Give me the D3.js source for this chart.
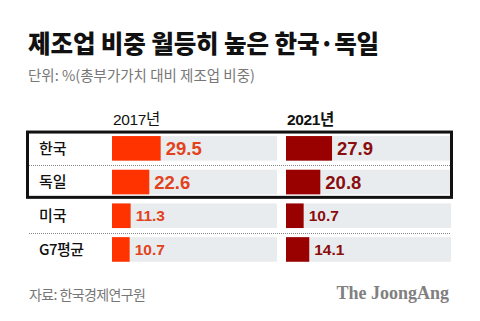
<!DOCTYPE html>
<html>
<head>
<meta charset="utf-8">
<script src="https://cdn.jsdelivr.net/npm/d3@7"></script>
<style>
  body { margin: 0; background: #fff; }
  svg { display: block; }
  .kr { font-family: "Noto Sans CJK KR", "Noto Sans", sans-serif; }
  .mix { font-family: "Liberation Sans", "Noto Sans CJK KR", sans-serif; }
  .num { font-family: "Liberation Sans", Arial, sans-serif; font-weight: 700; }
</style>
</head>
<body>
<div id="chart"></div>
<script>
// Data
const countries = ['한국', '독일', '미국', 'G7 평균'];
const share2017 = [29.5, 22.6, 11.3, 10.7];
const share2021 = [27.9, 20.8, 10.7, 14.1];
const years = ['2017년', '2021년'];
const highlighted = ['한국', '독일'];

const width = 480;
const height = 321;

const svg = d3.select('#chart')
  .append('svg')
    .attr('width', width)
    .attr('height', height);

// Title and unit line
svg.append('text')
    .attr('class', 'kr')
    .attr('x', 28)
    .attr('y', 53)
    .attr('font-size', 24.5)
    .attr('font-weight', 900)
    .attr('letter-spacing', -0.1)
    .attr('fill', '#111')
    .text('제조업 비중 월등히 높은 한국·독일');

svg.append('text')
    .attr('class', 'kr')
    .attr('x', 28)
    .attr('y', 81)
    .attr('font-size', 14.5)
    .attr('fill', '#777')
    .text('단위: %(총부가가치 대비 제조업 비중)');

// Scales
const y = d3.scaleBand()
  .domain(countries)
  .range([131.5, 266.3])
  .paddingInner(0.27)
  .paddingOuter(0.135);

const columns = [
  { year: years[0], values: share2017, x: d3.scaleLinear().domain([0, 100]).range([112, 277]),
    bar: '#ff3300', label: '#e2421c', weight: 400 },
  { year: years[1], values: share2021, x: d3.scaleLinear().domain([0, 100]).range([286, 451]),
    bar: '#990000', label: '#8a0d0d', weight: 700 },
];

// Column headers
svg.selectAll('.year-label')
  .data(columns)
  .join('text')
    .attr('class', 'year-label mix')
    .attr('x', d => d.x(0) + 1)
    .attr('y', 125)
    .attr('font-size', 15.5)
    .attr('font-weight', d => d.weight)
    .attr('letter-spacing', -0.4)
    .attr('fill', '#111')
    .text(d => d.year);

// Grey track behind each bar
columns.forEach(col => {
  svg.append('g')
    .selectAll('rect')
    .data(countries)
    .join('rect')
      .attr('x', col.x(0))
      .attr('y', d => y(d))
      .attr('width', col.x(100) - col.x(0))
      .attr('height', y.bandwidth())
      .attr('fill', '#e9ecee');
});

// Dotted separators
const sepPairs = [[0, 1], [2, 3]];
const sepY = d => Math.round((y(countries[d[0]]) + y.bandwidth() + y(countries[d[1]])) / 2) + 0.5;
svg.append('g')
  .selectAll('line')
  .data(sepPairs)
  .join('line')
    .attr('x1', 29)
    .attr('x2', 451)
    .attr('y1', sepY)
    .attr('y2', sepY)
    .attr('stroke', '#888')
    .attr('stroke-width', 1)
    .attr('stroke-dasharray', '1,1');

// Bars and value labels
columns.forEach(col => {
  const g = svg.append('g');
  g.selectAll('rect')
    .data(countries)
    .join('rect')
      .attr('x', col.x(0))
      .attr('y', d => y(d))
      .attr('width', (d, i) => col.x(col.values[i]) - col.x(0))
      .attr('height', y.bandwidth())
      .attr('fill', col.bar);

  g.selectAll('text')
    .data(countries)
    .join('text')
      .attr('class', 'num')
      .attr('x', (d, i) => col.x(col.values[i]) + 5)
      .attr('y', d => y(d) + y.bandwidth() / 2)
      .attr('dy', '0.36em')
      .attr('font-size', d => highlighted.includes(d) ? 18.5 : 15.5)
      .attr('fill', col.label)
      .text((d, i) => d3.format('.1f')(col.values[i]));
});

// Country names
svg.append('g')
  .selectAll('text')
  .data(countries)
  .join('text')
    .attr('class', 'kr')
    .attr('x', 39)
    .attr('y', d => y(d) + y.bandwidth() / 2)
    .attr('dy', '0.36em')
    .attr('font-size', 15)
    .attr('font-weight', 500)
    .attr('letter-spacing', d => d === 'G7 평균' ? -0.5 : 0)
    .attr('fill', '#111')
    .text(d => d === 'G7 평균' ? 'G7평균' : d);

// Frame around the two highlighted rows
const frameTop = y(highlighted[0]) - 4;
const frameBottom = y(highlighted[1]) + y.bandwidth() + 3;
svg.append('rect')
    .attr('x', 27.5)
    .attr('y', frameTop)
    .attr('width', 424)
    .attr('height', frameBottom - frameTop)
    .attr('fill', 'none')
    .attr('stroke', '#111')
    .attr('stroke-width', 3);

// Footer
svg.append('text')
    .attr('class', 'kr')
    .attr('x', 29)
    .attr('y', 300)
    .attr('font-size', 14)
    .attr('letter-spacing', -0.6)
    .attr('fill', '#777')
    .text('자료: 한국경제연구원');

svg.append('text')
    .attr('x', 449)
    .attr('y', 299)
    .attr('text-anchor', 'end')
    .attr('font-family', '"Liberation Serif", "DejaVu Serif", serif')
    .attr('font-weight', 700)
    .attr('font-size', 18)
    .attr('fill', '#808080')
    .text('The JoongAng');
</script>
</body>
</html>
